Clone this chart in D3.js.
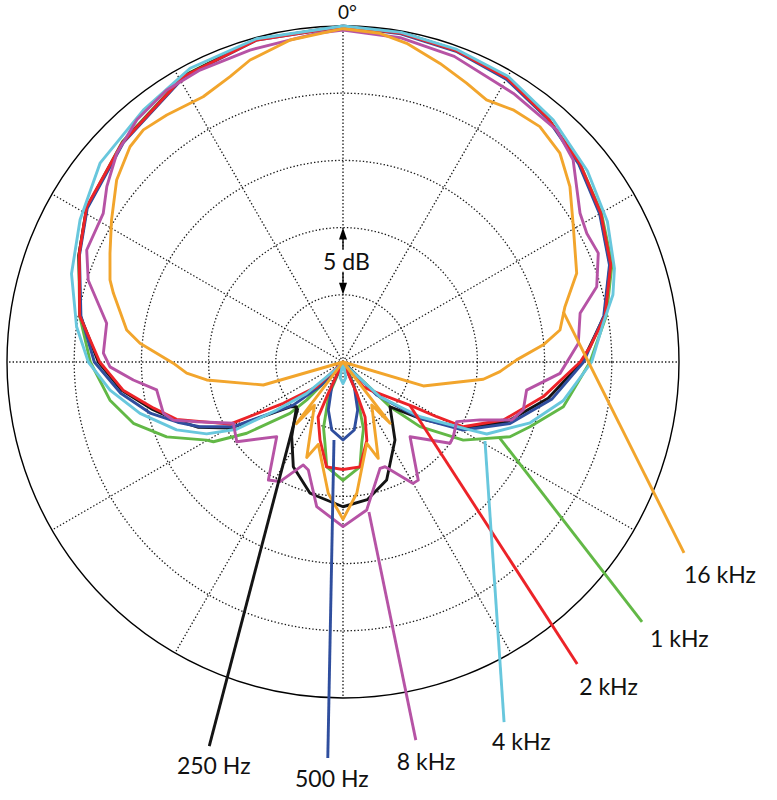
<!DOCTYPE html>
<html><head><meta charset="utf-8">
<script src="https://cdn.jsdelivr.net/npm/d3@7"></script>
<style>html,body{margin:0;padding:0;background:#fff;} svg{display:block;}</style>
</head><body>
<svg id="chart" width="777" height="800"></svg>
<script>
// ---------- data (angle in degrees clockwise from 0° at top, level in dB) ----------
const ringLevels = [-20, -15, -10, -5];
const outerLevel = 0;
const spokeAngles = [0, 30, 60, 90, 120, 150, 180, 210, 240, 270, 300, 330];

const s250Hz = [[0,0],[10,-0.1],[20,-0.3],[30,-0.6],[40,-1.3],[50,-2.05],[60,-2.9],[70,-3.85],[80,-5.25],[90,-7.2],[100,-9.5],[110,-12.0],[119,-14.8],[126,-17.8],[133.6,-20.17],[146.3,-18.03],[159.7,-15.64],[170,-14.6],[180,-14.23],[194.1,-14.93],[205.4,-16.38],[214.5,-18.26],[226,-20.2],[229.5,-19.9],[239.5,-15.3],[245.7,-13.2],[251,-11.8],[256,-10.4],[262.7,-8.4],[270,-6.8],[280,-5.15],[292,-3.8],[301,-2.75],[315,-1.85],[331,-0.65],[345,-0.15],[360,0]];

const s500Hz = [[0,-0.05],[10,-0.2],[20,-0.4],[30,-0.7],[40,-1.35],[50,-2.1],[60,-2.95],[70,-3.9],[80,-5.3],[90,-7.1],[100,-9.2],[110.2,-11.76],[119.5,-14.72],[126.2,-17.9],[134.4,-21.5],[142,-25],[155.4,-22.98],[163,-21.27],[170.6,-19.87],[180,-19.2],[189.4,-19.87],[197,-21.27],[204.6,-22.98],[215,-25],[223,-22.6],[229.1,-20.1],[239.5,-15.5],[245.7,-13.3],[250,-11.9],[255,-10.2],[262,-8.3],[270,-6.5],[280,-5.2],[292,-3.85],[301,-2.8],[315,-1.9],[331,-0.7],[345,-0.2],[360,-0.05]];

const s1kHz = [[0,-0.05],[10,-0.15],[20,-0.35],[30,-0.6],[40,-1.3],[50,-2.0],[60,-2.8],[70,-3.7],[80,-5.1],[90,-6.62],[101.5,-8.27],[109.1,-10.28],[114.1,-11.39],[123,-14.33],[130,-17.52],[133.6,-20.18],[140,-25],[152,-24],[157,-22.3],[163,-19.8],[167,-18.8],[170.8,-17.1],[180,-16.2],[188.8,-17.1],[192.5,-18.8],[196.5,-19.9],[203,-22.3],[210,-25],[218,-24.4],[223.7,-21.1],[225.9,-19.5],[233.5,-16.09],[238.4,-13.68],[240.2,-13.3],[247,-10.75],[253.7,-8.75],[260.7,-7.43],[270,-6.2],[280,-5.1],[292,-3.8],[301,-2.75],[315,-1.8],[331,-0.6],[345,-0.15],[360,-0.05]];

const s2kHz = [[0,-0.05],[10,-0.15],[20,-0.35],[30,-0.6],[40,-1.3],[50,-2.0],[60,-2.85],[70,-3.8],[80,-5.2],[86.5,-6.58],[90,-7.35],[99.8,-9.87],[109.9,-12.31],[118.3,-14.84],[120.3,-16.93],[122.4,-18.8],[136,-22.1],[140.6,-22.6],[150,-25],[156.4,-22.5],[158.1,-20.6],[163.1,-18.9],[170.8,-17.1],[180,-17],[188.9,-17.1],[196.4,-18.95],[204.3,-20.5],[205.2,-22.4],[212,-25],[218,-25],[226.8,-22.3],[235.3,-19.6],[241.2,-15.4],[251,-11.9],[256.3,-10.5],[262.7,-8.5],[270,-6.9],[280,-5.1],[292.4,-3.78],[301.2,-2.7],[314.7,-1.86],[330.8,-0.67],[345,-0.2],[360,-0.05]];

const s4kHz = [[0,0],[10,-0.1],[20,-0.25],[30,-0.45],[41,-1.15],[52,-1.92],[62,-2.72],[71,-3.64],[76,-4.3],[81.5,-5.42],[90,-6.5],[100,-8.37],[108,-10.36],[116.6,-13.04],[118.2,-14.3],[125.4,-17.97],[133.2,-21.2],[140,-24.5],[160,-24.9],[170,-23.8],[180,-23.4],[190,-23.8],[200,-24.9],[222,-24.5],[229.2,-21.4],[234.1,-18.9],[237.7,-15.64],[242.2,-13.53],[247.8,-11.63],[255.8,-9.42],[263.1,-7.54],[270,-6.05],[277.6,-5.0],[288,-3.76],[298.4,-2.76],[309.3,-1.64],[321.6,-1.08],[332.5,-0.36],[345,-0.1],[360,0]];

const s8kHz = [[0,-0.3],[10,-0.5],[20,-0.8],[32.4,-1.33],[42.6,-1.53],[48.7,-2.21],[57.9,-4.18],[62.2,-4.49],[66.9,-4.35],[73.5,-5.31],[78.4,-6.99],[85.5,-7.44],[93,-8.83],[98.7,-11.18],[104.9,-11.12],[109,-11.73],[112.9,-13.93],[117.7,-15.45],[124.1,-15.09],[127.2,-15],[138.1,-17.53],[147.5,-14.58],[150,-14.57],[158.1,-16.6],[160.8,-16.62],[170.9,-13.85],[180,-12.75],[190.3,-14.06],[197.8,-16.56],[201.1,-16.79],[207.8,-14.94],[212.3,-14.61],[221.6,-17.57],[233.1,-15.12],[240.8,-15.65],[247.8,-13.24],[251.1,-11.66],[254.1,-11.1],[261.5,-10.98],[265.1,-9.34],[268.8,-7.66],[272.1,-7.16],[279.3,-7.18],[287.8,-5.09],[293.6,-4.19],[301.8,-4.01],[306.6,-3.11],[312.7,-2.1],[319.6,-1.34],[327,-0.89],[333.9,-0.81],[343.4,-0.78],[355.4,-0.47],[360,-0.3]];

const s16kHz = [[0,-0.2],[6.4,-0.39],[11.3,-0.82],[18,-1.64],[23.9,-2.31],[28.7,-2.77],[34,-2.37],[39.9,-2.17],[46.1,-2.6],[52.3,-3.66],[59.6,-5.13],[69.2,-6.4],[76,-7.98],[81.6,-8.68],[85.1,-10.04],[89.3,-12.08],[93.5,-13.3],[97,-14.48],[106.6,-18.76],[108,-25],[142,-25],[142.5,-19.25],[146.3,-21.15],[159.9,-17.37],[163.7,-18.7],[174,-15.18],[180,-13.3],[186.4,-15.17],[196.7,-18.6],[200.8,-17.4],[213.5,-21.15],[217.1,-19.25],[218,-25],[253.5,-25],[253.9,-18.83],[262.5,-14.77],[265.9,-13.34],[269.6,-12.37],[275.3,-9.83],[278.4,-8.73],[286.7,-7.16],[289.4,-6.62],[295,-5.87],[301.5,-4.8],[308.8,-3.39],[315.3,-2.47],[319.3,-2.22],[324.5,-2.42],[332.2,-2.69],[338.4,-2.17],[342.9,-1.49],[350.7,-0.72],[360,-0.2]];

const seriesNames  = ["250 Hz", "500 Hz", "1 kHz", "2 kHz", "4 kHz", "8 kHz", "16 kHz"];
const seriesData   = [s250Hz, s500Hz, s1kHz, s2kHz, s4kHz, s8kHz, s16kHz];
const seriesColors = ["#141414", "#2F4E9E", "#62B846", "#EC2328", "#68C7DD", "#B653A5", "#F2A52C"];
const drawOrder    = [2, 0, 1, 3, 4, 5, 6];

// leader lines: [start [angle, dB], end [angle, dB]] (ends lie outside the 0 dB circle)
const leaderLines = [
  [[224.4,-20.2],[199.2,5.26]],
  [[186.6,-19.16],[182.2,4.49]],
  [[115.7,-12.12],[131,4.48]],
  [[123,-19.06],[142.2,3.43]],
  [[119.1,-12.91],[155.9,4.35]],
  [[170.2,-13.67],[169.1,3.65]],
  [[77.1,-8.19],[119.25,4.08]]
];
const scaleLabel = "5 dB";
const topAngleLabel = "0°";

// ---------- drawing ----------
const svg = d3.select("#chart");
const cx = 343, cy = 362, R = 336;
const FONT = "Lato, 'Noto Sans', sans-serif";
const r = d3.scaleLinear().domain([-25, outerLevel]).range([0, R]);
const toRad = d => d * Math.PI / 180;
const px = (a, db) => [cx + r(db) * Math.sin(toRad(a)), cy - r(db) * Math.cos(toRad(a))];

const g = svg.append("g").attr("transform", `translate(${cx},${cy})`);

// dotted rings
g.selectAll("circle.ring").data(ringLevels).join("circle")
  .attr("class", "ring").attr("r", d => r(d))
  .attr("fill", "none").attr("stroke", "#1a1a1a").attr("stroke-width", 1.3)
  .attr("stroke-dasharray", "1.4,2.1");

// dotted spokes
g.selectAll("line.spoke").data(spokeAngles).join("line")
  .attr("class", "spoke")
  .attr("x1", 0).attr("y1", 0)
  .attr("x2", d => r(outerLevel) * Math.sin(toRad(d)))
  .attr("y2", d => -r(outerLevel) * Math.cos(toRad(d)))
  .attr("stroke", "#1a1a1a").attr("stroke-width", 1.3)
  .attr("stroke-dasharray", "1.4,2.1");

// outer solid circle
g.append("circle").attr("r", r(outerLevel))
  .attr("fill", "none").attr("stroke", "#000").attr("stroke-width", 1.4);

// 5 dB scale marker
const yTop = -r(ringLevels[1]);   // -15 dB ring
const yBot = -r(ringLevels[0]);   // -20 dB ring
g.append("rect").attr("x", -21).attr("y", yTop + 22).attr("width", 49).attr("height", 23).attr("fill", "#fff");
g.append("line").attr("x1", 0).attr("x2", 0).attr("y1", yTop + 11).attr("y2", yTop + 22)
  .attr("stroke", "#000").attr("stroke-width", 1.3);
g.append("line").attr("x1", 0).attr("x2", 0).attr("y1", yBot - 23).attr("y2", yBot - 11)
  .attr("stroke", "#000").attr("stroke-width", 1.3);
g.append("path").attr("d", `M0,${yTop} L-4,${yTop + 12} L4,${yTop + 12} Z`).attr("fill", "#000");
g.append("path").attr("d", `M0,${yBot} L-4,${yBot - 12} L4,${yBot - 12} Z`).attr("fill", "#000");
g.append("text").attr("x", 3.5).attr("y", yTop + 42).attr("text-anchor", "middle")
  .attr("font-family", FONT).attr("font-size", 23).attr("fill", "#111").text(scaleLabel);

// curves
const radial = d3.lineRadial().angle(d => toRad(d[0])).radius(d => r(d[1])).curve(d3.curveLinear);
g.selectAll("path.series").data(drawOrder).join("path")
  .attr("class", "series")
  .attr("d", i => radial(seriesData[i]))
  .attr("fill", "none")
  .attr("stroke", i => seriesColors[i])
  .attr("stroke-width", 2.9)
  .attr("stroke-linejoin", "round");

// leader lines
svg.selectAll("line.leader").data(leaderLines).join("line")
  .attr("class", "leader")
  .attr("x1", d => px(...d[0])[0]).attr("y1", d => px(...d[0])[1])
  .attr("x2", d => px(...d[1])[0]).attr("y2", d => px(...d[1])[1])
  .attr("stroke", (d, i) => seriesColors[i]).attr("stroke-width", 2.9);

// labels at leader ends
const labelOffsets = [[4.5, 28, "middle"], [4, 29, "middle"], [8, 25, "start"], [2, 31, "start"], [-12, 28, "start"], [-19, 30, "start"], [0, 30, "start"]];
svg.selectAll("text.lbl").data(leaderLines).join("text")
  .attr("class", "lbl")
  .attr("x", (d, i) => px(...d[1])[0] + labelOffsets[i][0])
  .attr("y", (d, i) => px(...d[1])[1] + labelOffsets[i][1])
  .attr("text-anchor", (d, i) => labelOffsets[i][2])
  .attr("font-family", FONT).attr("font-size", 23).attr("fill", "#111")
  .text((d, i) => seriesNames[i]);

// 0° label
svg.append("text").attr("x", cx - 5).attr("y", 19)
  .attr("font-family", FONT).attr("font-size", 19).attr("fill", "#111").text(topAngleLabel);
</script>
</body></html>
